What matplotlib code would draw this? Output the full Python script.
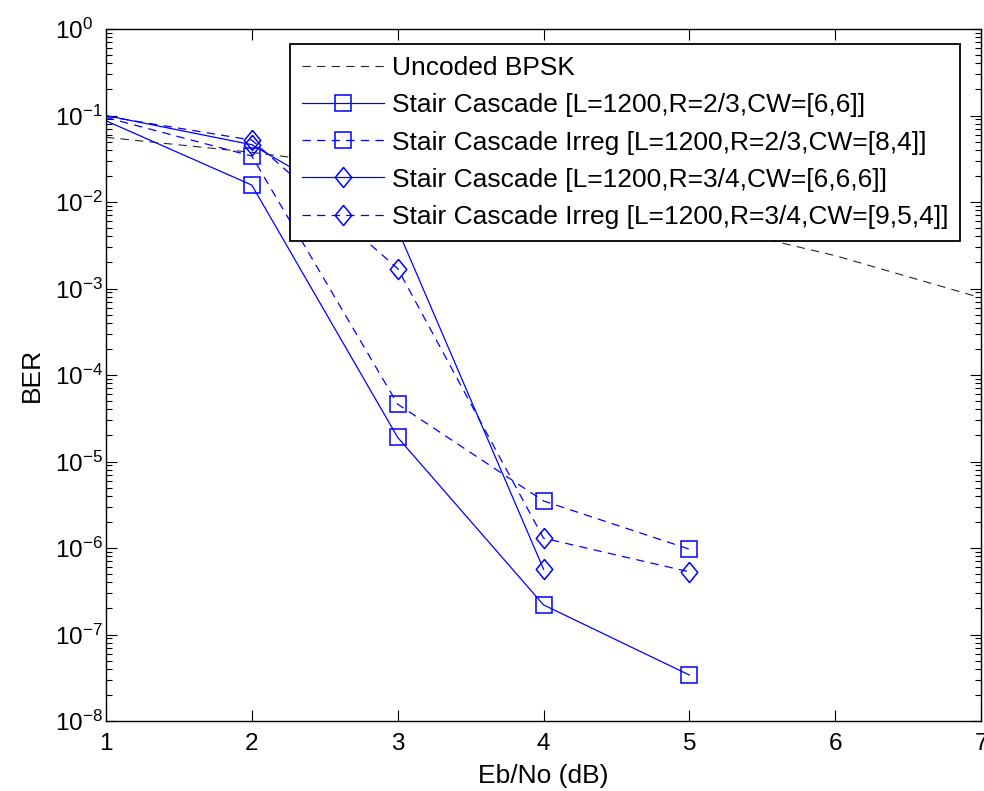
import numpy as np
import matplotlib
matplotlib.use("Agg")
import matplotlib.pyplot as plt
from matplotlib.ticker import LogLocator, FixedLocator, NullLocator

plt.rcParams['font.family'] = ['Liberation Sans', 'DejaVu Sans']
plt.rcParams['mathtext.fontset'] = 'custom'
plt.rcParams['mathtext.rm'] = 'Liberation Sans'
plt.rcParams['mathtext.it'] = 'Liberation Sans:italic'
plt.rcParams['mathtext.bf'] = 'Liberation Sans:bold'
plt.rcParams['lines.scale_dashes'] = False

# Eb/No axis (dB)
ebno_uncoded = [1, 2, 3, 4, 5, 6, 7]
ber_uncoded = [0.056, 0.0375, 0.023, 0.0125, 0.006, 0.0024, 0.00078]

ebno_coded = [1, 2, 3, 4, 5]
ber_sc_23 = [0.087, 0.0157, 1.9e-5, 2.2e-7, 3.4e-8]
ber_sci_23 = [0.095, 0.034, 4.6e-5, 3.5e-6, 9.7e-7]

ebno_sc_34 = [1, 2, 3, 4]
ber_sc_34 = [0.1, 0.046, 0.0048, 5.7e-7]
ber_sci_34 = [0.098, 0.052, 1.7e-3, 1.3e-6, 5.3e-7]

labels = [
    "Uncoded BPSK",
    "Stair Cascade [L=1200,R=2/3,CW=[6,6]]",
    "Stair Cascade Irreg [L=1200,R=2/3,CW=[8,4]]",
    "Stair Cascade [L=1200,R=3/4,CW=[6,6,6]]",
    "Stair Cascade Irreg [L=1200,R=3/4,CW=[9,5,4]]",
]
x_ticks = [1, 2, 3, 4, 5, 6, 7]

FS_TICK = 17.5
FS_TEXT = 19
BLUE = (0.0, 0.0, 1.0)
DASH = (0, (6, 4.5))
diamond = [(0, 1), (0.82, 0), (0, -1), (-0.82, 0), (0, 1)]

fig = plt.figure(figsize=(9.84, 7.91), dpi=100)
ax = fig.add_axes([0.1077, 0.0885, 0.8893, 0.8748])

ax.plot(ebno_uncoded, ber_uncoded, color='0.15', lw=0.8, linestyle=DASH,
        label=labels[0])
common = dict(color=BLUE, lw=0.9, mfc='none', mec=BLUE, mew=1.1,
              markevery=slice(1, None))
ax.plot(ebno_coded, ber_sc_23, linestyle='-', marker='s', ms=12,
        label=labels[1], **common)
ax.plot(ebno_coded, ber_sci_23, linestyle=DASH, marker='s', ms=12,
        label=labels[2], **common)
ax.plot(ebno_sc_34, ber_sc_34, linestyle='-', marker=diamond, ms=14.5,
        label=labels[3], **common)
ax.plot(ebno_coded, ber_sci_34, linestyle=DASH, marker=diamond, ms=14.5,
        label=labels[4], **common)

ax.set_yscale('log')
ax.set_xlim(1, 7)
ax.set_ylim(1e-8, 1e0)
ax.xaxis.set_major_locator(FixedLocator(x_ticks))
ax.xaxis.set_minor_locator(NullLocator())
ax.yaxis.set_major_locator(LogLocator(base=10, numticks=20))
ax.yaxis.set_minor_locator(LogLocator(base=10, subs=np.arange(2, 10), numticks=20))

ax.tick_params(which='both', direction='in', top=True, right=True,
               labelsize=FS_TICK, width=0.8, colors='black')
ax.tick_params(which='major', length=8)
ax.tick_params(which='minor', length=4)
ax.tick_params(axis='x', which='major', pad=9)
ax.tick_params(axis='y', which='major', pad=36.5)
for lab in ax.get_yticklabels():
    lab.set_horizontalalignment('left')
for s in ax.spines.values():
    s.set_linewidth(1.0)

ax.set_xlabel("Eb/No (dB)", fontsize=FS_TEXT, labelpad=6)
ax.set_ylabel("BER", fontsize=FS_TEXT, labelpad=8)

leg = ax.legend(loc='upper right', bbox_to_anchor=(0.976, 0.978),
                borderaxespad=0, fontsize=FS_TEXT, frameon=True, fancybox=False,
                framealpha=1, edgecolor='black', handlelength=3.1,
                handletextpad=0.3, labelspacing=0.5, borderpad=0.45,
                numpoints=1)
leg.get_frame().set_linewidth(1.3)
for h in leg.legend_handles:
    h.set_markevery([1])

fig.savefig("out.png", dpi=100)
